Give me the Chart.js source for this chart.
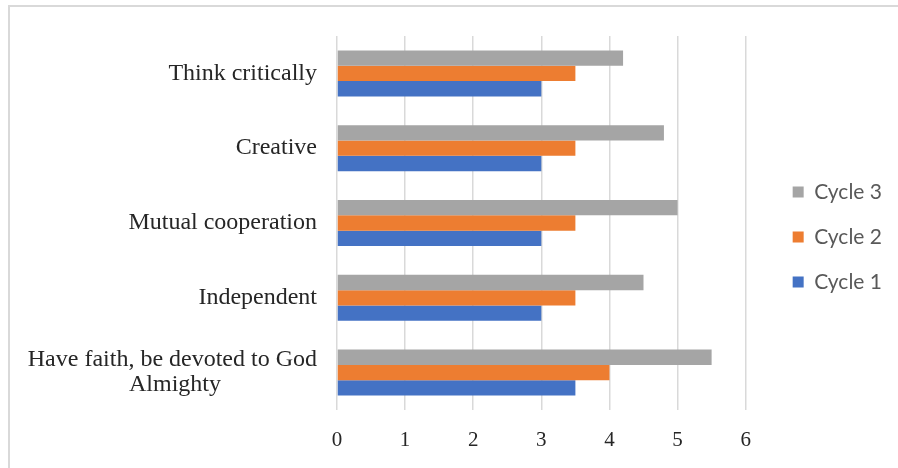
<!DOCTYPE html>
<html>
<head>
<meta charset="utf-8">
<script src="https://cdn.jsdelivr.net/npm/chart.js@4"></script>
<style>
  html, body { margin: 0; padding: 0; background: #fff; }
  #wrap { position: relative; width: 898px; height: 468px; overflow: hidden; }
  #frame {
    position: absolute; left: 8px; top: 5px; width: 1000px; height: 1000px;
    border: 2px solid #d9d9d9; pointer-events: none;
  }
</style>
</head>
<body>
<div id="wrap">
  <canvas id="chart" width="898" height="468"></canvas>
  <div id="frame"></div>
</div>
<script>
// chart data
const categories = [
  'Think critically',
  'Creative',
  'Mutual cooperation',
  'Independent',
  ['Have faith, be devoted to God', 'Almighty                ']
];
const seriesNames = ['Cycle 3', 'Cycle 2', 'Cycle 1'];
const cycle3 = [4.2, 4.8, 5, 4.5, 5.5];
const cycle2 = [3.5, 3.5, 3.5, 3.5, 4];
const cycle1 = [3, 3, 3, 3, 3.5];
const xTicks = [0, 1, 2, 3, 4, 5, 6];

const colors = ['#a5a5a5', '#ed7d31', '#4472c4'];
const values = [cycle3, cycle2, cycle1];

const serif = '"Liberation Serif", "Times New Roman", serif';

// no extra margins from label overhang
function noPad(s) {
  s.paddingTop = 0; s.paddingBottom = 0;
  s.paddingLeft = 0; s.paddingRight = 0;
}

new Chart(document.getElementById('chart'), {
  type: 'bar',
  data: {
    labels: categories,
    datasets: seriesNames.map((name, i) => ({
      label: name,
      data: values[i],
      backgroundColor: colors[i],
      borderWidth: 0,
      categoryPercentage: 0.615,
      barPercentage: 1
    }))
  },
  options: {
    indexAxis: 'y',
    responsive: false,
    animation: false,
    events: [],
    layout: { padding: { top: 6, left: 0, right: 6, bottom: 0 } },
    plugins: {
      tooltip: { enabled: false },
      legend: {
        position: 'right',
        align: 'center',
        labels: {
          boxWidth: 11,
          boxHeight: 11,
          padding: 24,
          color: '#595959',
          font: { family: 'Lato, "Liberation Sans", sans-serif', size: 21 }
        }
      }
    },
    scales: {
      x: {
        min: 0,
        max: 6,
        afterBuildTicks: s => { s.ticks = xTicks.map(v => ({ value: v })); },
        afterFit: s => { noPad(s); s.height = 58; },
        grid: { color: '#d9d9d9', lineWidth: 1.5, drawTicks: false },
        border: { display: false },
        ticks: {
          padding: 18,
          color: '#262626',
          font: { family: serif, size: 21 }
        }
      },
      y: {
        afterFit: s => { noPad(s); s.width = 337; },
        grid: { display: false, drawTicks: false },
        border: { display: false },
        ticks: {
          padding: 20,
          color: '#262626',
          font: { family: serif, size: 24, lineHeight: 1.05 }
        }
      },
      // empty spacers around the plot
      gap: {
        type: 'category',
        axis: 'y',
        position: 'right',
        afterFit: s => { noPad(s); s.width = 23; },
        grid: { display: false, drawTicks: false },
        border: { display: false },
        ticks: { display: false }
      },
      top: {
        type: 'linear',
        axis: 'x',
        position: 'top',
        afterFit: s => { noPad(s); s.height = 30; },
        grid: { display: false, drawTicks: false },
        border: { display: false },
        ticks: { display: false }
      }
    }
  }
});
</script>
</body>
</html>
